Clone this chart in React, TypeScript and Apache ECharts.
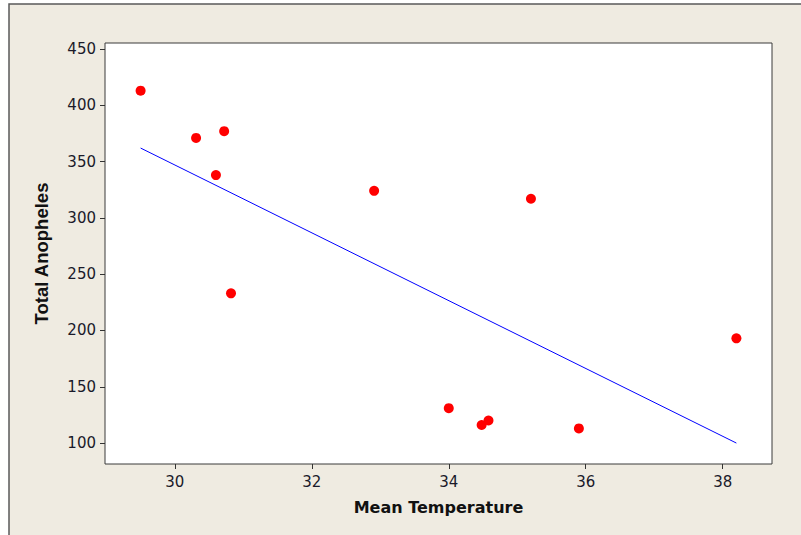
import React, { useEffect, useRef } from "react";
import * as echarts from "echarts";

const meanTemperature = [29.5, 30.31, 30.72, 30.6, 30.82, 32.91, 35.2, 34.0, 34.48, 34.58, 35.9, 38.2];
const totalAnopheles = [413, 371, 377, 338, 233, 324, 317, 131, 116, 120, 113, 193];
const fitLine = [
  [29.5, 362],
  [38.2, 100],
];
const xTicks = [30, 32, 34, 36, 38];
const yTicks = [100, 150, 200, 250, 300, 350, 400, 450];

const FONT = "DejaVu Sans";

export default function App() {
  const ref = useRef<HTMLDivElement>(null);
  useEffect(() => {
    if (!ref.current) return;
    const chart = echarts.init(ref.current, null, { renderer: "svg" });
    const points = meanTemperature.map((x, i) => [x, totalAnopheles[i]]);
    chart.setOption({
      animation: false,
      backgroundColor: "#ffffff",
      graphic: [
        {
          type: "rect",
          shape: { x: 9, y: 4, width: 800, height: 540 },
          style: { fill: "#EFEBE1", stroke: "#5a5a5a", lineWidth: 1.5 },
          z: -10,
          silent: true,
        },
      ],
      grid: {
        left: 105,
        top: 43,
        width: 667,
        height: 421,
        show: true,
        backgroundColor: "#ffffff",
        borderColor: "#3a3a3a",
        borderWidth: 1,
      },
      xAxis: {
        type: "value",
        min: 28.98,
        max: 38.72,
        name: "Mean Temperature",
        nameLocation: "middle",
        nameGap: 35,
        nameTextStyle: { fontFamily: FONT, fontSize: 16, fontWeight: "bold", color: "#111" },
        axisLine: { show: false },
        splitLine: { show: false },
        axisTick: { show: true, length: 5, lineStyle: { color: "#333" }, customValues: xTicks },
        axisLabel: {
          fontFamily: FONT,
          fontSize: 15,
          color: "#1a1a2a",
          margin: 10,
          customValues: xTicks,
        },
      },
      yAxis: {
        type: "value",
        min: 81.4,
        max: 455.3,
        name: "Total Anopheles",
        nameLocation: "middle",
        nameGap: 54,
        nameRotate: 90,
        nameTextStyle: { fontFamily: "Liberation Sans", fontSize: 18.5, fontWeight: "bold", color: "#111" },
        axisLine: { show: false },
        splitLine: { show: false },
        axisTick: { show: true, length: 5, lineStyle: { color: "#333" }, customValues: yTicks },
        axisLabel: {
          fontFamily: FONT,
          fontSize: 15,
          color: "#1a1a2a",
          margin: 9,
          customValues: yTicks,
        },
      },
      series: [
        {
          type: "line",
          data: fitLine,
          symbol: "none",
          lineStyle: { color: "#0000ff", width: 1 },
          z: 1,
        },
        {
          type: "scatter",
          data: points,
          symbol: "circle",
          symbolSize: 10,
          itemStyle: { color: "#ff0000", opacity: 1 },
          z: 2,
        },
      ],
    });
    return () => chart.dispose();
  }, []);
  return (
    <div
      ref={ref}
      style={{ position: "fixed", left: 0, top: 0, width: 801, height: 535 }}
    />
  );
}
